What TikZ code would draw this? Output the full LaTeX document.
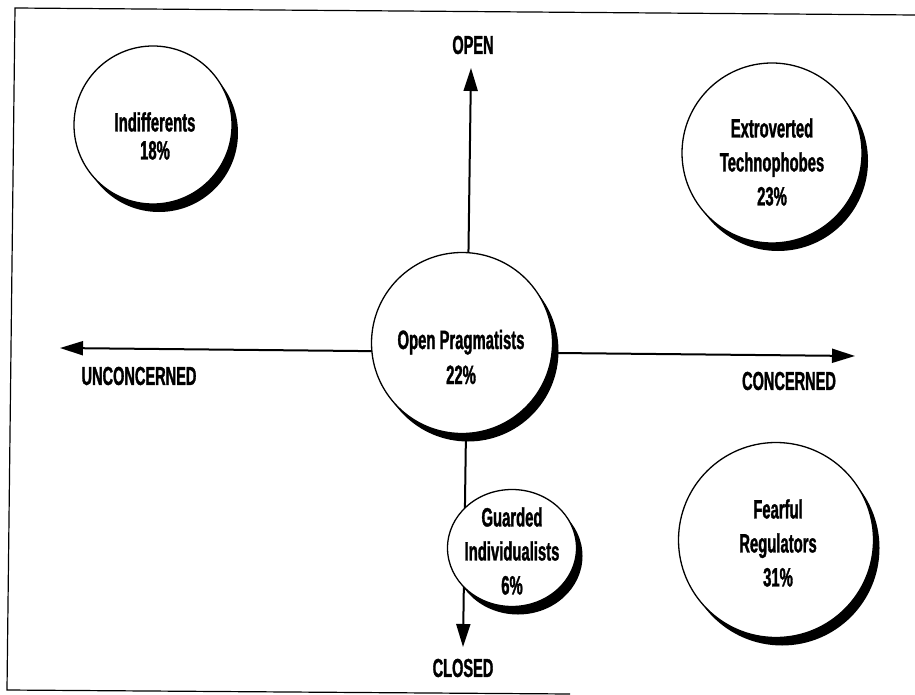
\documentclass[tikz,border=0pt]{standalone}
\usepackage{fontspec}
\setmainfont{Liberation Sans}[FakeStretch=0.56,FakeBold=1.2]
\usetikzlibrary{arrows.meta,shadows,shapes.geometric}
\begin{document}
\begin{tikzpicture}[x=1pt,y=-1pt,
  bubble/.style={draw=black, line width=1.3pt, fill=white, inner sep=0pt,
    drop shadow={shadow xshift=6pt, shadow yshift=-8pt, fill=black, opacity=1}},
  txt/.style={align=center, font=\fontsize{26.5}{34}\selectfont\bfseries, inner sep=0pt},
  axislabel/.style={font=\fontsize{26}{30}\selectfont\bfseries, inner sep=0pt},
  axisline/.style={line width=2pt,
    {Triangle[length=23pt,width=14pt]}-{Triangle[length=23pt,width=14pt]}},
  frameline/.style={line width=1.2pt, line join=miter}
]
\useasboundingbox (0,0) rectangle (915,695);

% frame (open at the right)
\draw[frameline] (915,15) -- (15,8) -- (7,690) -- (570,694);

% axes end points
\coordinate (openTip) at (471,68);
\coordinate (closedTip) at (463,647);
\coordinate (uncTip) at (60,348);
\coordinate (conTip) at (855,356);

\draw[axisline] (uncTip) -- (conTip);
\draw[axisline] (openTip) -- (closedTip);

% axis labels
\node[axislabel] (openL) at (473,45) {OPEN};
\node[axislabel] (closedL) at (463,668) {CLOSED};
\node[axislabel] (uncL) at (139,376) {UNCONCERNED};
\node[axislabel] (conL) at (789,381) {CONCERNED};

% bubbles
\node[bubble, circle, minimum size=158pt] (ind) at (153,125) {};
\node[txt, font=\fontsize{26.5}{28}\selectfont\bfseries] (indT) at (155,136) {Indifferents\\18\%};

\node[bubble, circle, minimum size=180pt] (ext) at (772,153) {};
\node[txt] (extT) at (772,162) {Extroverted\\Technophobes\\23\%};

\node[bubble, circle, minimum size=181pt] (op) at (462,343) {};
\node[txt, font=\fontsize{26.5}{35}\selectfont\bfseries] (opT) at (461,357) {Open Pragmatists\\22\%};

\node[bubble, ellipse, minimum width=129pt, minimum height=117pt] (gi) at (512,548) {};
\node[txt] (giT) at (512,551) {Guarded\\Individualists\\6\%};

\node[bubble, circle, minimum size=195pt] (fr) at (776,540) {};
\node[txt] (frT) at (778,543) {Fearful\\Regulators\\31\%};
\end{tikzpicture}
\end{document}
